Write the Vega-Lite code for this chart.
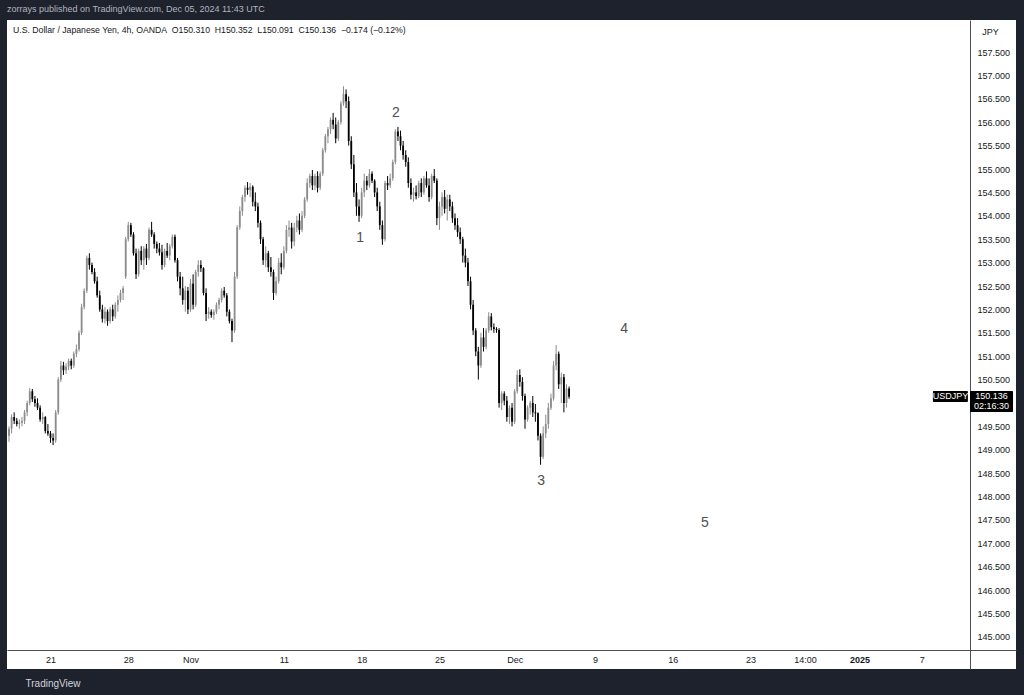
{
"$schema": "https://vega.github.io/schema/vega-lite/v6.json",
"width": 1009,
"height": 649,
"autosize": "none",
"padding": {"left": 7, "top": 20, "right": 8, "bottom": 26},
"background": "#1e222d",
"title": {"text": "zorrays published on TradingView.com, Dec 05, 2024 11:43 UTC", "anchor": "start", "frame": "group", "fontSize": 9, "fontWeight": "normal", "color": "#b2b5be", "offset": 6},
"config": {"view": {"fill": "#ffffff", "stroke": null}, "font": "Liberation Sans", "axis": {"labelOverlap": false}},
"datasets": {
"candles": [
{"b":0,"o":149.30,"h":149.50,"l":149.17,"c":149.45},
{"b":1,"o":149.45,"h":149.76,"l":149.35,"c":149.70},
{"b":2,"o":149.70,"h":149.80,"l":149.55,"c":149.62},
{"b":3,"o":149.62,"h":149.68,"l":149.50,"c":149.55},
{"b":4,"o":149.55,"h":149.65,"l":149.45,"c":149.58},
{"b":5,"o":149.58,"h":149.70,"l":149.50,"c":149.62},
{"b":6,"o":149.62,"h":149.85,"l":149.55,"c":149.80},
{"b":7,"o":149.80,"h":150.05,"l":149.72,"c":150.00},
{"b":8,"o":150.00,"h":150.32,"l":149.95,"c":150.25},
{"b":9,"o":150.25,"h":150.30,"l":150.02,"c":150.08},
{"b":10,"o":150.08,"h":150.15,"l":149.92,"c":150.00},
{"b":11,"o":150.00,"h":150.10,"l":149.85,"c":149.90},
{"b":12,"o":149.90,"h":149.95,"l":149.60,"c":149.65},
{"b":13,"o":149.65,"h":149.80,"l":149.55,"c":149.70},
{"b":14,"o":149.70,"h":149.72,"l":149.35,"c":149.40},
{"b":15,"o":149.40,"h":149.55,"l":149.30,"c":149.35},
{"b":16,"o":149.35,"h":149.40,"l":149.15,"c":149.25},
{"b":17,"o":149.25,"h":149.35,"l":149.10,"c":149.20},
{"b":18,"o":149.20,"h":149.85,"l":149.15,"c":149.80},
{"b":19,"o":149.80,"h":150.55,"l":149.75,"c":150.50},
{"b":20,"o":150.50,"h":150.90,"l":150.45,"c":150.80},
{"b":21,"o":150.80,"h":150.88,"l":150.60,"c":150.70},
{"b":22,"o":150.70,"h":150.85,"l":150.62,"c":150.78},
{"b":23,"o":150.78,"h":150.95,"l":150.70,"c":150.90},
{"b":24,"o":150.90,"h":150.95,"l":150.72,"c":150.80},
{"b":25,"o":150.80,"h":151.10,"l":150.75,"c":151.05},
{"b":26,"o":151.05,"h":151.25,"l":150.98,"c":151.15},
{"b":27,"o":151.15,"h":151.55,"l":151.10,"c":151.50},
{"b":28,"o":151.50,"h":152.12,"l":151.45,"c":152.05},
{"b":29,"o":152.05,"h":152.45,"l":152.00,"c":152.40},
{"b":30,"o":152.40,"h":153.15,"l":152.35,"c":153.10},
{"b":31,"o":153.10,"h":153.20,"l":152.85,"c":152.95},
{"b":32,"o":152.95,"h":153.00,"l":152.75,"c":152.80},
{"b":33,"o":152.80,"h":152.88,"l":152.55,"c":152.60},
{"b":34,"o":152.60,"h":152.70,"l":152.25,"c":152.30},
{"b":35,"o":152.30,"h":152.40,"l":151.95,"c":152.00},
{"b":36,"o":152.00,"h":152.10,"l":151.72,"c":151.80},
{"b":37,"o":151.80,"h":152.05,"l":151.70,"c":151.95},
{"b":38,"o":151.95,"h":152.00,"l":151.65,"c":151.75},
{"b":39,"o":151.75,"h":152.05,"l":151.70,"c":152.00},
{"b":40,"o":152.00,"h":152.10,"l":151.75,"c":151.85},
{"b":41,"o":151.85,"h":152.15,"l":151.80,"c":152.10},
{"b":42,"o":152.10,"h":152.30,"l":151.95,"c":152.20},
{"b":43,"o":152.20,"h":152.42,"l":152.15,"c":152.35},
{"b":44,"o":152.35,"h":152.50,"l":152.20,"c":152.45},
{"b":45,"o":152.70,"h":153.55,"l":152.65,"c":153.50},
{"b":46,"o":153.50,"h":153.87,"l":153.45,"c":153.80},
{"b":47,"o":153.80,"h":153.85,"l":153.55,"c":153.60},
{"b":48,"o":153.60,"h":153.65,"l":153.15,"c":153.20},
{"b":49,"o":153.20,"h":153.30,"l":152.65,"c":152.75},
{"b":50,"o":152.75,"h":153.30,"l":152.70,"c":153.25},
{"b":51,"o":153.25,"h":153.35,"l":152.95,"c":153.05},
{"b":52,"o":153.05,"h":153.35,"l":152.85,"c":153.30},
{"b":53,"o":153.30,"h":153.40,"l":152.95,"c":153.10},
{"b":54,"o":153.10,"h":153.75,"l":153.05,"c":153.70},
{"b":55,"o":153.70,"h":153.87,"l":153.55,"c":153.60},
{"b":56,"o":153.60,"h":153.65,"l":153.30,"c":153.40},
{"b":57,"o":153.40,"h":153.45,"l":153.20,"c":153.30},
{"b":58,"o":153.30,"h":153.42,"l":153.15,"c":153.22},
{"b":59,"o":153.22,"h":153.38,"l":152.85,"c":152.95},
{"b":60,"o":152.95,"h":153.30,"l":152.90,"c":153.25},
{"b":61,"o":153.25,"h":153.42,"l":153.10,"c":153.15},
{"b":62,"o":153.15,"h":153.40,"l":153.05,"c":153.35},
{"b":63,"o":153.35,"h":153.60,"l":153.30,"c":153.55},
{"b":64,"o":153.55,"h":153.60,"l":153.00,"c":153.05},
{"b":65,"o":153.05,"h":153.10,"l":152.60,"c":152.70},
{"b":66,"o":152.70,"h":152.80,"l":152.30,"c":152.45},
{"b":67,"o":152.45,"h":152.70,"l":152.10,"c":152.20},
{"b":68,"o":152.20,"h":152.50,"l":151.95,"c":152.40},
{"b":69,"o":152.40,"h":152.48,"l":151.90,"c":152.00},
{"b":70,"o":152.00,"h":152.65,"l":151.95,"c":152.55},
{"b":71,"o":152.55,"h":152.75,"l":152.00,"c":152.10},
{"b":72,"o":152.10,"h":152.85,"l":152.05,"c":152.80},
{"b":73,"o":152.80,"h":153.05,"l":152.70,"c":152.95},
{"b":74,"o":152.95,"h":153.05,"l":152.80,"c":152.88},
{"b":75,"o":152.88,"h":152.90,"l":152.30,"c":152.35},
{"b":76,"o":152.35,"h":152.45,"l":151.75,"c":151.90},
{"b":77,"o":151.90,"h":152.05,"l":151.80,"c":151.95},
{"b":78,"o":151.95,"h":152.00,"l":151.82,"c":151.88},
{"b":79,"o":151.88,"h":152.00,"l":151.78,"c":151.95},
{"b":80,"o":151.95,"h":152.15,"l":151.90,"c":152.10},
{"b":81,"o":152.10,"h":152.25,"l":152.00,"c":152.20},
{"b":82,"o":152.20,"h":152.45,"l":152.15,"c":152.40},
{"b":83,"o":152.40,"h":152.48,"l":152.25,"c":152.30},
{"b":84,"o":152.30,"h":152.35,"l":151.85,"c":151.95},
{"b":85,"o":151.95,"h":152.00,"l":151.70,"c":151.75},
{"b":86,"o":151.75,"h":151.80,"l":151.30,"c":151.55},
{"b":87,"o":151.55,"h":152.80,"l":151.50,"c":152.70},
{"b":88,"o":152.70,"h":153.80,"l":152.65,"c":153.75},
{"b":89,"o":153.75,"h":154.20,"l":153.70,"c":154.10},
{"b":90,"o":154.10,"h":154.45,"l":154.00,"c":154.40},
{"b":91,"o":154.40,"h":154.65,"l":154.30,"c":154.60},
{"b":92,"o":154.60,"h":154.72,"l":154.45,"c":154.55},
{"b":93,"o":154.55,"h":154.70,"l":154.40,"c":154.62},
{"b":94,"o":154.62,"h":154.65,"l":154.20,"c":154.30},
{"b":95,"o":154.30,"h":154.50,"l":154.10,"c":154.20},
{"b":96,"o":154.20,"h":154.28,"l":153.75,"c":153.85},
{"b":97,"o":153.85,"h":153.90,"l":153.40,"c":153.50},
{"b":98,"o":153.50,"h":153.55,"l":152.95,"c":153.05},
{"b":99,"o":153.05,"h":153.35,"l":152.90,"c":153.20},
{"b":100,"o":153.20,"h":153.25,"l":152.80,"c":152.90},
{"b":101,"o":152.90,"h":153.12,"l":152.70,"c":152.80},
{"b":102,"o":152.80,"h":152.85,"l":152.20,"c":152.35},
{"b":103,"o":152.35,"h":152.70,"l":152.30,"c":152.60},
{"b":104,"o":152.60,"h":153.10,"l":152.55,"c":153.00},
{"b":105,"o":153.00,"h":153.20,"l":152.75,"c":152.90},
{"b":106,"o":152.90,"h":153.35,"l":152.85,"c":153.25},
{"b":107,"o":153.25,"h":153.80,"l":153.20,"c":153.70},
{"b":108,"o":153.70,"h":153.90,"l":153.55,"c":153.75},
{"b":109,"o":153.75,"h":153.85,"l":153.30,"c":153.45},
{"b":110,"o":153.45,"h":153.85,"l":153.35,"c":153.75},
{"b":111,"o":153.75,"h":154.00,"l":153.65,"c":153.90},
{"b":112,"o":153.90,"h":154.05,"l":153.60,"c":153.70},
{"b":113,"o":153.70,"h":154.10,"l":153.65,"c":154.00},
{"b":114,"o":154.00,"h":154.40,"l":153.95,"c":154.35},
{"b":115,"o":154.35,"h":154.80,"l":154.30,"c":154.70},
{"b":116,"o":154.70,"h":154.90,"l":154.60,"c":154.85},
{"b":117,"o":154.85,"h":154.98,"l":154.55,"c":154.65},
{"b":118,"o":154.65,"h":154.90,"l":154.55,"c":154.85},
{"b":119,"o":154.85,"h":154.95,"l":154.50,"c":154.60},
{"b":120,"o":154.60,"h":154.95,"l":154.55,"c":154.90},
{"b":121,"o":154.90,"h":155.45,"l":154.85,"c":155.40},
{"b":122,"o":155.40,"h":155.75,"l":155.35,"c":155.70},
{"b":123,"o":155.70,"h":155.90,"l":155.55,"c":155.85},
{"b":124,"o":155.85,"h":156.10,"l":155.75,"c":156.05},
{"b":125,"o":156.05,"h":156.20,"l":155.85,"c":155.95},
{"b":126,"o":155.95,"h":156.10,"l":155.55,"c":155.65},
{"b":127,"o":155.65,"h":156.05,"l":155.60,"c":156.00},
{"b":128,"o":156.00,"h":156.45,"l":155.95,"c":156.40},
{"b":129,"o":156.40,"h":156.77,"l":156.35,"c":156.60},
{"b":130,"o":156.60,"h":156.70,"l":156.30,"c":156.45},
{"b":131,"o":156.45,"h":156.55,"l":155.50,"c":155.60},
{"b":132,"o":155.60,"h":155.70,"l":155.00,"c":155.10},
{"b":133,"o":155.10,"h":155.30,"l":154.40,"c":154.50},
{"b":134,"o":154.50,"h":154.70,"l":154.00,"c":154.20},
{"b":135,"o":154.20,"h":154.35,"l":153.87,"c":154.00},
{"b":136,"o":154.00,"h":154.60,"l":153.95,"c":154.50},
{"b":137,"o":154.50,"h":154.90,"l":154.40,"c":154.75},
{"b":138,"o":154.75,"h":154.85,"l":154.55,"c":154.65},
{"b":139,"o":154.65,"h":155.00,"l":154.60,"c":154.90},
{"b":140,"o":154.90,"h":154.95,"l":154.70,"c":154.75},
{"b":141,"o":154.75,"h":154.78,"l":154.40,"c":154.50},
{"b":142,"o":154.50,"h":154.60,"l":154.10,"c":154.20},
{"b":143,"o":154.20,"h":154.30,"l":153.70,"c":153.80},
{"b":144,"o":153.80,"h":153.90,"l":153.38,"c":153.50},
{"b":145,"o":153.50,"h":154.75,"l":153.45,"c":154.70},
{"b":146,"o":154.70,"h":154.85,"l":154.55,"c":154.65},
{"b":147,"o":154.65,"h":154.90,"l":154.60,"c":154.80},
{"b":148,"o":154.80,"h":155.20,"l":154.75,"c":155.15},
{"b":149,"o":155.15,"h":155.85,"l":155.10,"c":155.80},
{"b":150,"o":155.80,"h":155.90,"l":155.60,"c":155.70},
{"b":151,"o":155.70,"h":155.82,"l":155.40,"c":155.50},
{"b":152,"o":155.50,"h":155.60,"l":155.20,"c":155.30},
{"b":153,"o":155.30,"h":155.40,"l":155.05,"c":155.15},
{"b":154,"o":155.15,"h":155.25,"l":154.60,"c":154.70},
{"b":155,"o":154.70,"h":154.80,"l":154.35,"c":154.45},
{"b":156,"o":154.45,"h":154.60,"l":154.30,"c":154.50},
{"b":157,"o":154.50,"h":154.65,"l":154.35,"c":154.42},
{"b":158,"o":154.42,"h":154.75,"l":154.38,"c":154.70},
{"b":159,"o":154.70,"h":154.80,"l":154.40,"c":154.50},
{"b":160,"o":154.50,"h":154.85,"l":154.45,"c":154.80},
{"b":161,"o":154.80,"h":154.95,"l":154.60,"c":154.65},
{"b":162,"o":154.65,"h":154.80,"l":154.30,"c":154.40},
{"b":163,"o":154.40,"h":154.90,"l":154.35,"c":154.85},
{"b":164,"o":154.85,"h":155.00,"l":154.70,"c":154.75},
{"b":165,"o":154.75,"h":154.80,"l":153.80,"c":153.95},
{"b":166,"o":153.95,"h":154.30,"l":153.70,"c":154.20},
{"b":167,"o":154.20,"h":154.50,"l":154.00,"c":154.40},
{"b":168,"o":154.40,"h":154.55,"l":154.05,"c":154.15},
{"b":169,"o":154.15,"h":154.45,"l":153.90,"c":154.35},
{"b":170,"o":154.35,"h":154.45,"l":154.10,"c":154.20},
{"b":171,"o":154.20,"h":154.30,"l":153.85,"c":153.95},
{"b":172,"o":153.95,"h":154.05,"l":153.70,"c":153.80},
{"b":173,"o":153.80,"h":153.95,"l":153.55,"c":153.65},
{"b":174,"o":153.65,"h":153.75,"l":153.40,"c":153.50},
{"b":175,"o":153.50,"h":153.55,"l":153.00,"c":153.15},
{"b":176,"o":153.15,"h":153.30,"l":152.90,"c":153.00},
{"b":177,"o":153.00,"h":153.10,"l":152.50,"c":152.60},
{"b":178,"o":152.60,"h":152.70,"l":152.00,"c":152.10},
{"b":179,"o":152.10,"h":152.20,"l":151.45,"c":151.55},
{"b":180,"o":151.55,"h":151.60,"l":151.00,"c":151.10},
{"b":181,"o":151.10,"h":151.20,"l":150.50,"c":150.80},
{"b":182,"o":150.80,"h":151.50,"l":150.75,"c":151.40},
{"b":183,"o":151.40,"h":151.60,"l":151.10,"c":151.20},
{"b":184,"o":151.20,"h":151.60,"l":151.15,"c":151.55},
{"b":185,"o":151.55,"h":151.94,"l":151.50,"c":151.85},
{"b":186,"o":151.85,"h":151.92,"l":151.55,"c":151.62},
{"b":187,"o":151.62,"h":151.70,"l":151.50,"c":151.58},
{"b":188,"o":151.58,"h":151.62,"l":151.50,"c":151.56},
{"b":189,"o":151.56,"h":151.60,"l":149.90,"c":150.00},
{"b":190,"o":150.00,"h":150.25,"l":149.85,"c":150.20},
{"b":191,"o":150.20,"h":150.25,"l":149.95,"c":150.05},
{"b":192,"o":150.05,"h":150.15,"l":149.60,"c":149.70},
{"b":193,"o":149.70,"h":149.95,"l":149.55,"c":149.90},
{"b":194,"o":149.90,"h":150.00,"l":149.50,"c":149.60},
{"b":195,"o":149.60,"h":150.30,"l":149.55,"c":150.25},
{"b":196,"o":150.25,"h":150.70,"l":150.20,"c":150.60},
{"b":197,"o":150.60,"h":150.72,"l":150.35,"c":150.45},
{"b":198,"o":150.45,"h":150.55,"l":150.05,"c":150.15},
{"b":199,"o":150.15,"h":150.20,"l":149.45,"c":149.65},
{"b":200,"o":149.65,"h":149.95,"l":149.60,"c":149.90},
{"b":201,"o":149.90,"h":150.05,"l":149.75,"c":150.00},
{"b":202,"o":150.00,"h":150.15,"l":149.70,"c":149.80},
{"b":203,"o":149.80,"h":149.98,"l":149.60,"c":149.78},
{"b":204,"o":149.78,"h":149.80,"l":149.20,"c":149.30},
{"b":205,"o":149.30,"h":149.35,"l":148.68,"c":148.85},
{"b":206,"o":148.85,"h":149.50,"l":148.80,"c":149.35},
{"b":207,"o":149.35,"h":149.75,"l":149.25,"c":149.55},
{"b":208,"o":149.55,"h":150.00,"l":149.45,"c":149.90},
{"b":209,"o":149.90,"h":150.20,"l":149.85,"c":150.10},
{"b":210,"o":150.10,"h":150.90,"l":150.05,"c":150.80},
{"b":211,"o":150.80,"h":151.24,"l":150.70,"c":151.05},
{"b":212,"o":151.05,"h":151.10,"l":150.30,"c":150.40},
{"b":213,"o":150.40,"h":150.65,"l":150.00,"c":150.55},
{"b":214,"o":150.55,"h":150.62,"l":149.80,"c":150.00},
{"b":215,"o":150.00,"h":150.40,"l":149.90,"c":150.31},
{"b":216,"o":150.31,"h":150.352,"l":150.091,"c":150.136}
],
"waves": [
{"b":135.4,"p":153.53,"lab":"1"},
{"b":149.2,"p":156.20,"lab":"2"},
{"b":205.2,"p":148.33,"lab":"3"},
{"b":237.2,"p":151.58,"lab":"4"},
{"b":268.4,"p":147.44,"lab":"5"}
],
"header": [
{"b":1.54,"p":157.97,"lab":"U.S. Dollar / Japanese Yen, 4h, OANDA\u00a0 O150.310\u00a0 H150.352\u00a0 L150.091\u00a0 C150.136\u00a0 \u22120.174 (\u22120.12%)"}
],
"boxes": [
{"b":356.3,"b2":369.8,"p":150.256,"p2":150.021},
{"b":370.6,"b2":387.2,"p":150.256,"p2":149.808}
],
"boxtext": [
{"b":363.1,"p":150.14,"lab":"USDJPY"},
{"b":378.9,"p":150.15,"lab":"150.136"},
{"b":378.9,"p":149.936,"lab":"02:16:30"}
]
},
"layer": [
{
"data": {"name": "candles"},
"mark": {"type": "rule", "strokeWidth": 1},
"encoding": {
"x": {"field": "b", "type": "quantitative",
"scale": {"domain": [-0.77, 388.35], "nice": false, "zero": false, "padding": 0},
"axis": {"orient": "bottom", "offset": -19, "values": [16,46,70,106,136,166,195,226,256,286,307,328,352], "tickCount": 40,
"labelExpr": "{'16':'21','46':'28','70':'Nov','106':'11','136':'18','166':'25','195':'Dec','226':'9','256':'16','286':'23','307':'14:00','328':'2025','352':'7'}[datum.value]",
"labelFontWeight": {"condition": {"test": "datum.value == 328", "value": "bold"}, "value": "normal"},
"ticks": false, "grid": false, "domainColor": "#4a4e59", "labelColor": "#131722", "labelFontSize": 9, "labelPadding": 5, "labelOverlap": false, "labelBound": false,
"title": "TradingView", "titleX": 18, "titleY": 33, "titleAlign": "left", "titleBaseline": "middle", "titleColor": "#d1d4dc", "titleFontSize": 10, "titleFontWeight": "normal"}},
"y": {"field": "l", "type": "quantitative",
"scale": {"domain": [144.316, 158.184], "nice": false, "zero": false, "padding": 0},
"axis": {"orient": "right", "offset": -46, "values": [145,145.5,146,146.5,147,147.5,148,148.5,149,149.5,150.5,151,151.5,152,152.5,153,153.5,154,154.5,155,155.5,156,156.5,157,157.5], "tickCount": 40,
"format": ".3f", "ticks": false, "grid": false, "domainColor": "#4a4e59", "labelColor": "#131722", "labelFontSize": 9, "labelPadding": 7, "labelOverlap": false, "labelBound": false,
"title": "JPY", "titleAngle": 0, "titleX": 20, "titleY": 11, "titleAlign": "center", "titleBaseline": "middle", "titleColor": "#131722", "titleFontSize": 9, "titleFontWeight": "normal"}},
"y2": {"field": "h"},
"color": {"condition": {"test": "datum.c >= datum.o", "value": "#8c8c8c"}, "value": "#000000"}
}
},
{
"data": {"name": "candles"},
"mark": {"type": "bar", "size": 1.8},
"encoding": {
"x": {"field": "b", "type": "quantitative"},
"y": {"field": "o", "type": "quantitative"},
"y2": {"field": "c"},
"color": {"condition": {"test": "datum.c >= datum.o", "value": "#8c8c8c"}, "value": "#000000"}
}
},
{
"data": {"name": "waves"},
"mark": {"type": "text", "fontSize": 14, "color": "#505050", "align": "center", "baseline": "middle"},
"encoding": {
"x": {"field": "b", "type": "quantitative"},
"y": {"field": "p", "type": "quantitative"},
"text": {"field": "lab"}
}
},
{
"data": {"name": "header"},
"mark": {"type": "text", "fontSize": 8.7, "color": "#131722", "align": "left", "baseline": "middle"},
"encoding": {
"x": {"field": "b", "type": "quantitative"},
"y": {"field": "p", "type": "quantitative"},
"text": {"field": "lab"}
}
},
{
"data": {"name": "boxes"},
"mark": {"type": "rect", "color": "#000000", "cornerRadius": 1},
"encoding": {
"x": {"field": "b", "type": "quantitative"},
"x2": {"field": "b2"},
"y": {"field": "p", "type": "quantitative"},
"y2": {"field": "p2"}
}
},
{
"data": {"name": "boxtext"},
"mark": {"type": "text", "fontSize": 9, "color": "#ffffff", "align": "center", "baseline": "middle"},
"encoding": {
"x": {"field": "b", "type": "quantitative"},
"y": {"field": "p", "type": "quantitative"},
"text": {"field": "lab"}
}
}
]
}
